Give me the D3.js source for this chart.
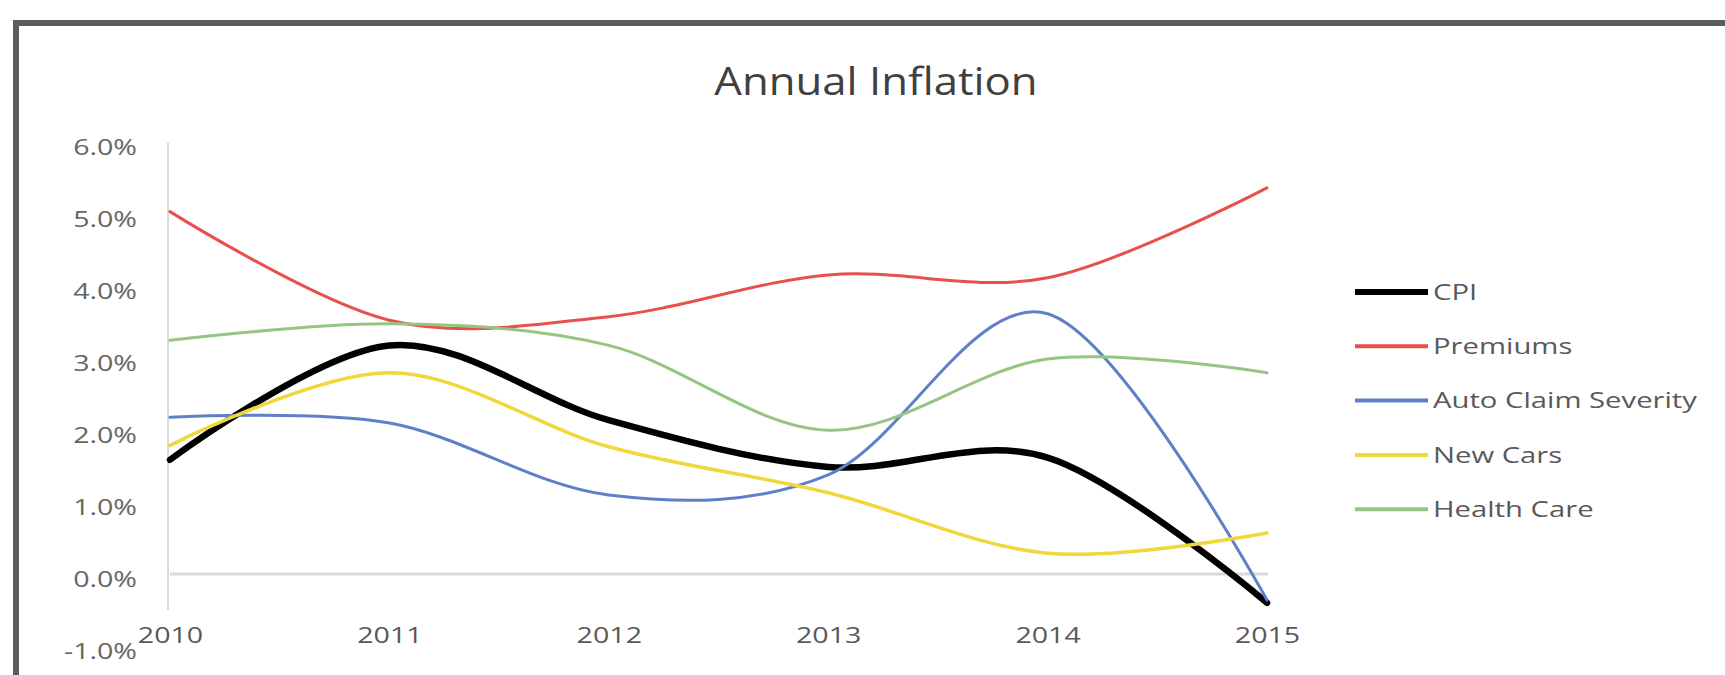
<!DOCTYPE html>
<html>
<head>
<meta charset="utf-8">
<script src="https://cdn.jsdelivr.net/npm/d3@7"></script>
<style>
  html, body { margin: 0; padding: 0; background: #ffffff; }
  svg { display: block; font-family: "Open Sans", "Noto Sans", sans-serif; }
</style>
</head>
<body>
<svg id="chart" width="1725" height="675"></svg>
<script>
// Annual inflation rates (%), 2010–2015
const years = [2010, 2011, 2012, 2013, 2014, 2015];
const seriesNames = ["CPI", "Premiums", "Auto Claim Severity", "New Cars", "Health Care"];
const cpi        = [1.59, 3.18, 2.14, 1.49, 1.62, -0.40];
const premiums   = [5.04, 3.53, 3.58, 4.16, 4.12, 5.37];
const autoClaim  = [2.18, 2.10, 1.10, 1.38, 3.62, -0.36];
const newCars    = [1.79, 2.80, 1.77, 1.13, 0.29, 0.57];
const healthCare = [3.25, 3.48, 3.18, 2.00, 2.99, 2.80];
const yTicks = [-1, 0, 1, 2, 3, 4, 5, 6];

const seriesValues = [cpi, premiums, autoClaim, newCars, healthCare];
const seriesColors = ["#000000", "#e8504c", "#5f80c8", "#f1d83a", "#95c582"];
const seriesWidths = [6.5, 3, 3, 3.5, 3];

const svg = d3.select("#chart");
const stretch = 1.3;          // horizontal glyph stretch used for all text
const textGray = "#595959";

// outer frame (top and left edges are visible)
svg.append("path")
  .attr("d", "M16,680 L16,23 L1730,23")
  .attr("fill", "none")
  .attr("stroke", "#5c5c5c")
  .attr("stroke-width", 6);

// scales
const x = d3.scalePoint().domain(years).range([170, 1267]);
const y = d3.scaleLinear().domain([-1, 6]).range([646, 142.6]);

// title
svg.append("text")
  .attr("transform", "translate(876,95) scale(1.15,1)")
  .attr("text-anchor", "middle")
  .attr("font-size", 38)
  .attr("fill", "#404040")
  .text("Annual Inflation");

// vertical axis line
svg.append("line")
  .attr("x1", 168).attr("x2", 168)
  .attr("y1", y(6)).attr("y2", 610)
  .attr("stroke", "#d9d9d9").attr("stroke-width", 2);

// horizontal axis line at 0%
svg.append("line")
  .attr("x1", 170).attr("x2", 1268)
  .attr("y1", y(0)).attr("y2", y(0))
  .attr("stroke", "#d9d9d9").attr("stroke-width", 3);

// y axis labels
const yAxis = d3.axisLeft(y)
  .tickValues(yTicks)
  .tickSize(0)
  .tickPadding(0)
  .tickFormat(d => d.toFixed(1) + "%");
const gy = svg.append("g").attr("transform", "translate(137,5)").call(yAxis);
gy.select(".domain").remove();
gy.selectAll("text")
  .attr("font-family", "Open Sans")
  .attr("font-size", 22)
  .attr("fill", "#666666")
  .attr("transform", `scale(${stretch},1)`);

// x axis labels
const xAxis = d3.axisBottom(x).tickSize(0).tickPadding(0);
const gx = svg.append("g").attr("transform", "translate(0,635)").call(xAxis);
gx.select(".domain").remove();
gx.selectAll("text")
  .attr("font-family", "Open Sans")
  .attr("font-size", 22)
  .attr("fill", textGray)
  .attr("y", 0)
  .attr("dy", "0.35em")
  .attr("transform", `scale(${stretch},1)`);

// smoothed series lines
const line = d3.line()
  .x((d, i) => x(years[i]))
  .y(d => y(d))
  .curve(d3.curveCardinal.tension(0));

seriesValues.forEach((vals, i) => {
  svg.append("path")
    .datum(vals)
    .attr("fill", "none")
    .attr("stroke", seriesColors[i])
    .attr("stroke-width", seriesWidths[i])
    .attr("stroke-linecap", "round")
    .attr("d", line);
});

// legend
const legend = svg.append("g");
seriesNames.forEach((name, i) => {
  const ly = 292 + i * 54.3;
  legend.append("line")
    .attr("x1", 1355).attr("x2", 1428)
    .attr("y1", ly).attr("y2", ly)
    .attr("stroke", seriesColors[i])
    .attr("stroke-width", i === 0 ? 6 : 4);
  legend.append("text")
    .attr("transform", `translate(1433,${ly}) scale(${stretch},1)`)
    .attr("dy", "0.35em")
    .attr("font-size", 22.5)
    .attr("fill", textGray)
    .text(name);
});
</script>
</body>
</html>
